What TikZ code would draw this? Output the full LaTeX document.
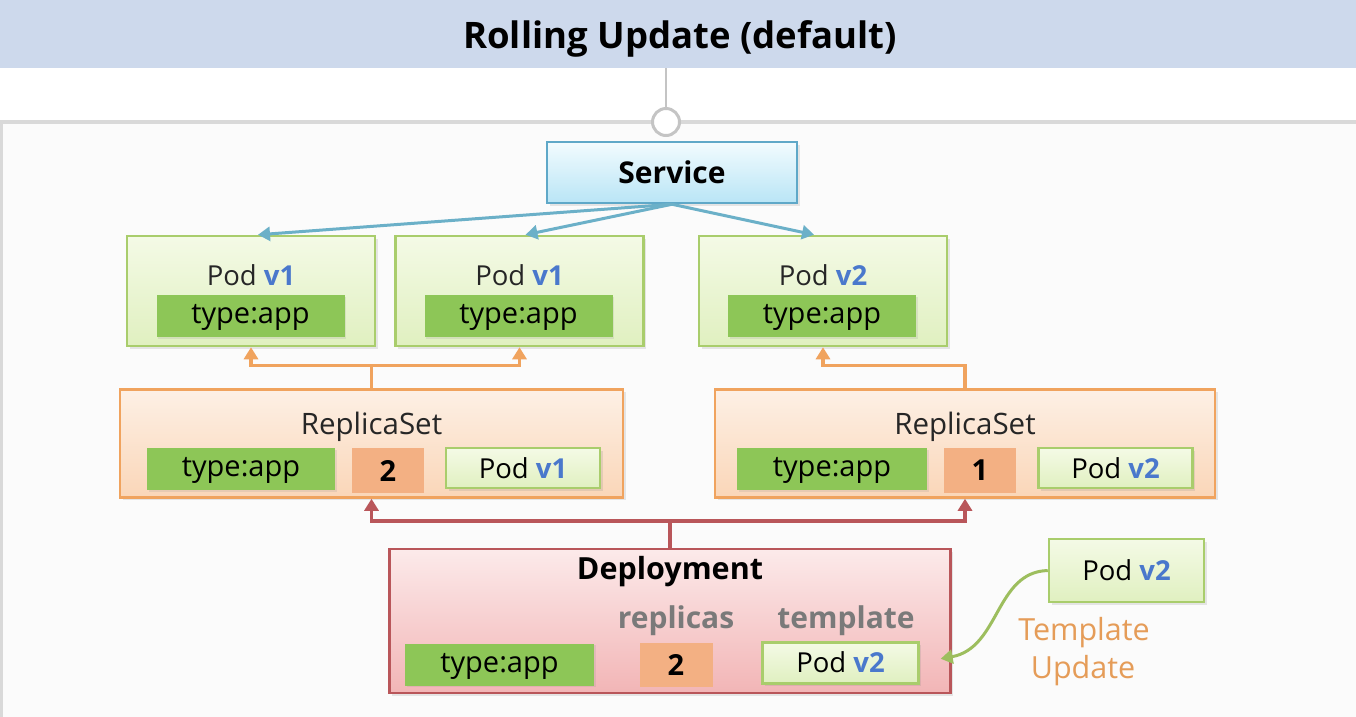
\documentclass[tikz,border=0pt]{standalone}
\usepackage{fontspec}
\setmainfont{Open Sans}
\usetikzlibrary{arrows.meta,shadows,positioning}

\definecolor{bandblue}{HTML}{CDD9EC}
\definecolor{framegray}{HTML}{D9D9D9}
\definecolor{hubgray}{HTML}{C4C4C4}
\definecolor{svcline}{HTML}{5FA8C8}
\definecolor{svctop}{HTML}{F2FBFE}
\definecolor{svcbot}{HTML}{B9E5F6}
\definecolor{svcarrow}{HTML}{6BB0C8}
\definecolor{podline}{HTML}{A9CD6C}
\definecolor{podtop}{HTML}{F4FAE6}
\definecolor{podbot}{HTML}{E0F0C0}
\definecolor{taggreen}{HTML}{8DC657}
\definecolor{rsline}{HTML}{F0A35E}
\definecolor{rstop}{HTML}{FDF0E5}
\definecolor{rsbot}{HTML}{FAD6B8}
\definecolor{cntorange}{HTML}{F3B083}
\definecolor{depline}{HTML}{B9565A}
\definecolor{deptop}{HTML}{FCEAEA}
\definecolor{depbot}{HTML}{F2B5B6}
\definecolor{depgray}{HTML}{7A7A7A}
\definecolor{verblue}{HTML}{4A78CC}
\definecolor{updgreen}{HTML}{9DBE5E}
\definecolor{updorange}{HTML}{E59C58}

\newcommand{\ver}[1]{\textcolor{verblue}{\textbf{#1}}}
\newcommand{\setfs}[1]{\fontsize{#1pt}{#1pt}\selectfont}

\begin{document}
\begin{tikzpicture}[x=1pt,y=-1pt,>={Triangle[width=14pt,length=12pt]},
                    inner sep=0pt]

  \tikzstyle{box}=[draw,line width=2.5pt,
                   drop shadow={shadow xshift=2.5pt,shadow yshift=-2.5pt,opacity=.18}]
  \tikzstyle{svc}=[box,draw=svcline,top color=svctop,bottom color=svcbot,
                   minimum width=250pt,minimum height=61pt]
  \tikzstyle{pod}=[box,draw=podline,top color=podtop,bottom color=podbot,
                   minimum width=248pt,minimum height=110pt]
  \tikzstyle{podref}=[pod,minimum width=154pt,minimum height=40pt,font=\setfs{27.5}]
  \tikzstyle{rs}=[box,draw=rsline,top color=rstop,bottom color=rsbot,
                  minimum height=108pt]
  \tikzstyle{dep}=[box,draw=depline,top color=deptop,bottom color=depbot,
                   minimum width=561pt,minimum height=144pt]
  \tikzstyle{tag}=[fill=taggreen,minimum width=188pt,minimum height=42pt,font=\setfs{29},
                   text height=22.6pt,text depth=7pt,
                   drop shadow={shadow xshift=1.5pt,shadow yshift=-1.5pt,opacity=.15}]
  \tikzstyle{cnt}=[fill=cntorange,minimum width=72pt,minimum height=45pt,font=\bfseries\setfs{29}]
  \tikzstyle{txt}=[anchor=base,font=\setfs{27.5},text=black!85]
  \tikzstyle{subhead}=[anchor=base,font=\bfseries\setfs{30},text=depgray]
  \tikzstyle{svcarr}=[->,draw=svcarrow,line width=3pt]
  \tikzstyle{rsarr}=[->,draw=rsline,line width=3.5pt]
  \tikzstyle{deparr}=[->,draw=depline,line width=3.5pt]

  \useasboundingbox (0,0) rectangle (1356,716);

  % heading and frame
  \node[fill=bandblue,minimum width=1358pt,minimum height=68pt] (band) at (678,34) {};
  \node[anchor=base,font=\bfseries\setfs{36.5}] (title) at (680,48) {Rolling Update (default)};
  \draw[framegray,line width=4pt,fill=black!1.5] (1,122) rectangle (1362,724);
  \node[circle,draw=hubgray,line width=3pt,fill=white,minimum size=27pt] (hub) at (666,122) {};
  \draw[hubgray,line width=1.2pt] (hub |- band.south) -- (hub.north);

  % service
  \node[svc] (svc) at (672,172.5) {};
  \node[anchor=base,font=\bfseries\setfs{30}] (svct) at (672,183) {Service};

  % pods
  \node[pod] (p1) at (251,291) {};
  \node[pod] (p2) at (519.5,291) {};
  \node[pod] (p3) at (823,291) {};
  \node[txt] (p1t) at (251,285) {Pod \ver{v1}};
  \node[txt] (p2t) at (519.5,285) {Pod \ver{v1}};
  \node[txt] (p3t) at (823,285) {Pod \ver{v2}};
  \node[tag] (p1g) at (250.5,316) {type:app};
  \node[tag] (p2g) at (518.5,316) {type:app};
  \node[tag] (p3g) at (822,316) {type:app};

  % replica sets
  \node[rs,minimum width=503pt] (rs1) at (371.5,443.5) {};
  \node[rs,minimum width=500pt] (rs2) at (965,443.5) {};
  \node[txt,font=\setfs{29.5}] (rs1t) at (371.5,434) {ReplicaSet};
  \node[txt,font=\setfs{29.5}] (rs2t) at (965,434) {ReplicaSet};
  \node[tag] (rs1g) at (241,469) {type:app};
  \node[cnt] (rs1c) at (388,470.5) {2};
  \node[podref] (rs1p) at (523,468) {Pod \ver{v1}};
  \node[tag,minimum width=190pt] (rs2g) at (832,469) {type:app};
  \node[cnt] (rs2c) at (980,470.5) {1};
  \node[podref] (rs2p) at (1115.5,468) {Pod \ver{v2}};

  % deployment
  \node[dep] (dep) at (670,621) {};
  \node[anchor=base,font=\bfseries\setfs{30.5}] (dept) at (670,579) {Deployment};
  \node[subhead] (depr) at (676,628) {replicas};
  \node[subhead] (dept2) at (846,628) {template};
  \node[tag,minimum width=189pt] (depg) at (499.5,664.5) {type:app};
  \node[cnt,minimum width=73pt,minimum height=44pt] (depc) at (676,665) {2};
  \node[podref,minimum width=156pt,minimum height=41pt,line width=3pt] (depp) at (840.5,662.5) {Pod \ver{v2}};

  % new template
  \node[podref,minimum width=155pt,minimum height=63pt] (ext) at (1126.5,570.5) {Pod \ver{v2}};
  \node[txt,font=\setfs{30.5},text=updorange] (upd1) at (1084,640) {Template};
  \node[txt,font=\setfs{30.5},text=updorange] (upd2) at (1083,678) {Update};

  % connectors
  \draw[svcarr] (svc.south) -- ([xshift=7pt]p1.north);
  \draw[svcarr] (svc.south) -- ([xshift=6pt]p2.north);
  \draw[svcarr] (svc.south) -- ([xshift=-9pt]p3.north);

  \draw[rsarr] (rs1.north) -- ++(0,-23) -| (p1.south);
  \draw[rsarr] (rs1.north) -- ++(0,-23) -| (p2.south);
  \draw[rsarr] (rs2.north) -- ++(0,-23) -| (p3.south);

  \draw[deparr] (dep.north) -- ++(0,-27) -| (rs1.south);
  \draw[deparr] (dep.north) -- ++(0,-27) -| (rs2.south);

  \draw[->,draw=updgreen,line width=3pt,shorten >=21pt]
    (ext.west) .. controls (995,572) and (1000,648) .. (depp.east);

\end{tikzpicture}
\end{document}
